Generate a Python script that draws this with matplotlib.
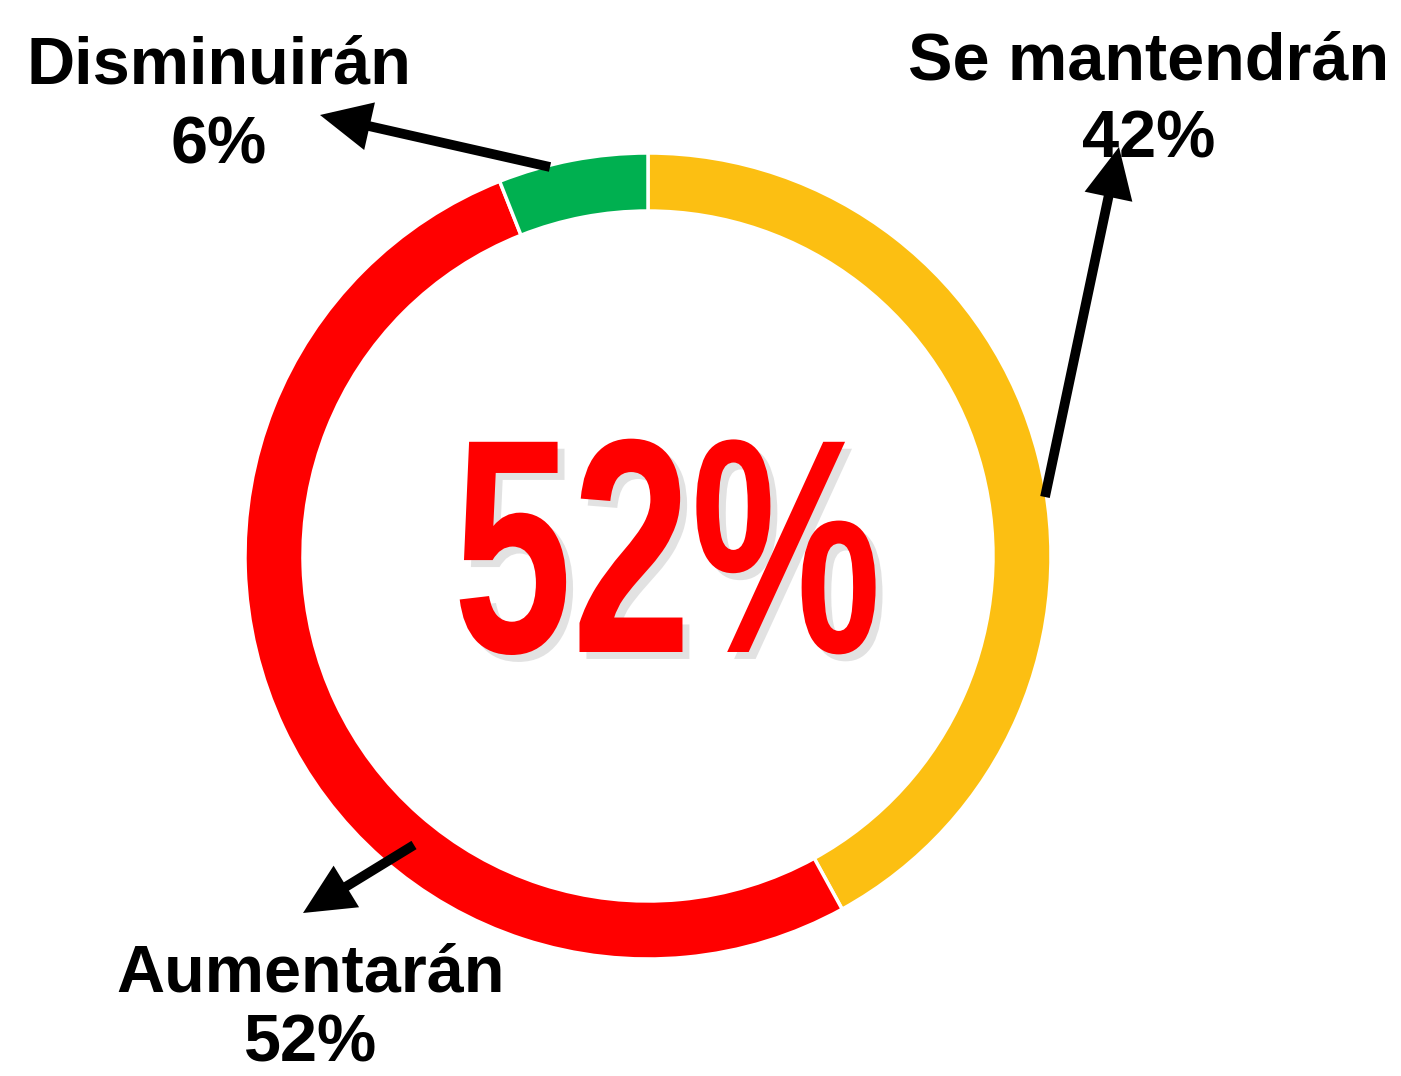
import matplotlib
matplotlib.use("Agg")
import matplotlib.pyplot as plt
import matplotlib.patheffects as pe
from matplotlib.transforms import Affine2D

# =========================================================
# Data
# =========================================================

labels = ["Se mantendrán", "Aumentarán", "Disminuirán"]
values = [42, 52, 6]
colors = ["#FCBF12", "#FF0000", "#00B050"]
center_value = "52%"

# =========================================================
# Layout (pixels, y measured from top)
# =========================================================

W, H = 1401, 1076
CX, CY = 648, 556
R_OUT = 403
RING = 58

label_pos = {
    "Se mantendrán": (1149, 80, 158),
    "Aumentarán": (311, 992, 1062),
    "Disminuirán": (219, 83, 163),
}

arrows = {
    "Se mantendrán": ((1045, 497), (1119, 147)),
    "Aumentarán": ((414, 845), (303, 913)),
    "Disminuirán": ((550, 167), (320, 115)),
}


def up(y):
    return H - y


class Squeeze(pe.AbstractPathEffect):
    # narrow the text horizontally around its own centre
    def __init__(self, sx, effects):
        super().__init__()
        self.sx = sx
        self.effects = effects

    def draw_path(self, renderer, gc, tpath, affine, rgbFace=None):
        bb = tpath.get_extents(affine)
        cx = (bb.x0 + bb.x1) / 2
        sq = Affine2D().translate(-cx, 0).scale(self.sx, 1).translate(cx, 0)
        for eff in self.effects:
            eff.draw_path(renderer, gc, tpath, affine + sq, rgbFace)


# =========================================================
# Figure
# =========================================================

fig = plt.figure(figsize=(W / 100, H / 100), dpi=100)
ax = fig.add_axes([0, 0, 1, 1])

ax.pie(
    values,
    colors=colors,
    startangle=90,
    counterclock=False,
    center=(CX, up(CY)),
    radius=R_OUT,
    wedgeprops=dict(width=RING, edgecolor="white", linewidth=2.5),
)

ax.set_xlim(0, W)
ax.set_ylim(0, H)
ax.set_aspect("auto")
ax.axis("off")

for name, val in zip(labels, values):
    x, y1, y2 = label_pos[name]
    ax.text(x, up(y1), name, ha="center", va="baseline",
            fontsize=48, fontweight="bold", family="Liberation Sans")
    ax.text(x, up(y2), f"{val}%", ha="center", va="baseline",
            fontsize=48, fontweight="bold", family="Liberation Sans")

    (x0, y0), (x1, y1b) = arrows[name]
    ax.annotate(
        "",
        xy=(x1, up(y1b)),
        xytext=(x0, up(y0)),
        arrowprops=dict(
            arrowstyle="-|>,head_length=1.25,head_width=0.6",
            color="black",
            lw=7,
            mutation_scale=20,
            shrinkA=0,
            shrinkB=0,
            capstyle="butt",
            joinstyle="miter",
        ),
    )

ax.text(
    667, up(652), center_value,
    ha="center", va="baseline",
    fontsize=220, fontweight="bold", family="Liberation Sans",
    color="#FF0000",
    path_effects=[
        Squeeze(0.70, [
            pe.SimplePatchShadow(offset=(5, -5), shadow_rgbFace="#a0a0a0"),
            pe.Normal(),
        ])
    ],
)

fig.savefig("out.png", dpi=100, facecolor="white")
